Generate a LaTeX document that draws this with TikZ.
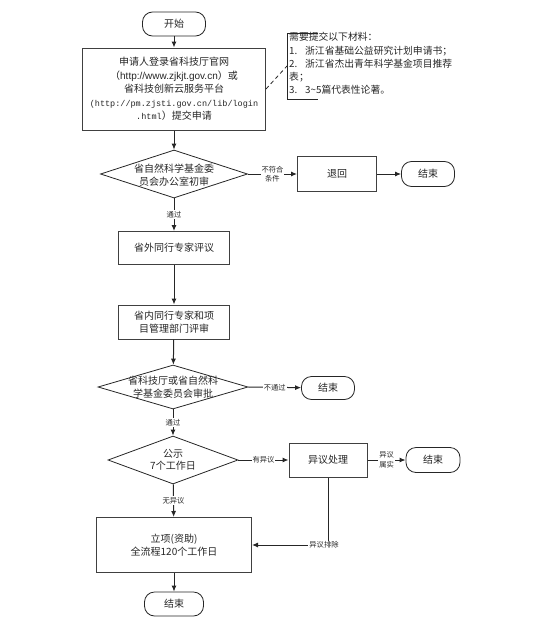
\documentclass[tikz,border=0pt]{standalone}
\usepackage{fontspec}
\setmainfont{Noto Sans CJK SC}
\newfontfamily\urlsans{Liberation Sans}
\newfontfamily\urlmono{Liberation Mono}
\usetikzlibrary{shapes.geometric,arrows.meta}
\begin{document}
\begin{tikzpicture}[x=1pt,y=-1pt,
  every node/.style={text=black!85},
  box/.style={draw=black!75,line width=1pt,fill=white,align=center,inner sep=0pt,
    font=\fontsize{10}{13.5}\selectfont},
  term/.style={draw=black!85,line width=0.8pt,rounded corners=10pt,fill=white,inner sep=0pt,
    font=\fontsize{10}{12}\selectfont},
  dia/.style={diamond,draw=black!85,line width=0.8pt,inner sep=0pt},
  dtxt/.style={align=center,inner sep=0pt,font=\fontsize{10}{12.5}\selectfont},
  arr/.style={draw=black!85,line width=1pt,-{Latex[length=6pt,width=5pt]}},
  lbl/.style={fill=white,inner sep=1pt,align=center,font=\fontsize{7.3}{9.5}\selectfont},
  note/.style={align=left,inner sep=0pt,font=\fontsize{9.8}{13.2}\selectfont}]
\useasboundingbox (0,0) rectangle (554,640);

% main column
\node[term,minimum width=63pt,minimum height=24pt] (start) at (174,24) {开始};
\node[box,minimum width=183pt,minimum height=82pt] (b1) at (174,89)
  {申请人登录省科技厅官网\\
   （{\urlsans http://www.zjkjt.gov.cn}）或\\
   省科技创新云服务平台\\
   {\urlmono\fontsize{8.5}{13.5}\selectfont (http://pm.zjsti.gov.cn/lib/login}\\
   {\urlmono\fontsize{8.5}{13.5}\selectfont .html}）提交申请};
\node[dia,minimum width=147pt,minimum height=48pt] (d1) at (174,174) {};
\node[dtxt] (d1t) at (174,175) {省自然科学基金委\\员会办公室初审};
\node[box,minimum width=111pt,minimum height=33pt] (b2) at (174,248) {省外同行专家评议};
\node[box,minimum width=111pt,minimum height=34pt] (b3) at (174,322) {省内同行专家和项\\目管理部门评审};
\node[dia,minimum width=150pt,minimum height=44pt] (d2) at (173,387) {};
\node[dtxt] (d2t) at (173,387) {省科技厅或省自然科\\学基金委员会审批};
\node[dia,minimum width=130pt,minimum height=48pt] (d3) at (173,460) {};
\node[dtxt] (d3t) at (173,460) {公示\\7个工作日};
\node[box,minimum width=155pt,minimum height=55pt] (b4) at (174,545) {立项(资助)\\全流程120个工作日};
\node[term,minimum width=59pt,minimum height=24pt] (e4) at (174,604) {结束};

% side nodes
\node[box,minimum width=79pt,minimum height=35pt] (back) at (337,174) {退回};
\node[term,minimum width=53pt,minimum height=25pt] (e1) at (428,174) {结束};
\node[term,minimum width=53pt,minimum height=23pt] (e2) at (328,388) {结束};
\node[box,minimum width=78pt,minimum height=34pt] (obj) at (328,460) {异议处理};
\node[term,minimum width=54pt,minimum height=25pt] (e3) at (433,460) {结束};

% callout
\node[note,anchor=west] (nt) at (289,63.5)
  {需要提交以下材料：\\
   \makebox[16pt][l]{1.}浙江省基础公益研究计划申请书；\\
   \makebox[16pt][l]{2.}浙江省杰出青年科学基金项目推荐\\
   表；\\
   \makebox[16pt][l]{3.}3\textasciitilde 5篇代表性论著。};
\coordinate (cn) at (287,66);
\draw[black!85,line width=0.8pt] (318,33) -- (287,33) -- (287,99) -- (318,99);
\draw[black!85,line width=0.8pt,dashed,dash pattern=on 4pt off 3pt] (b1.east) -- (cn);

% connectors
\draw[arr] (start) -- (b1);
\draw[arr] (b1) -- (d1);
\draw[arr] (d1) -- node[lbl]{通过} (b2);
\draw[arr] (b2) -- (b3);
\draw[arr] (b3) -- (d2);
\draw[arr] (d2) -- node[lbl]{通过} (d3);
\draw[arr] (d3) -- node[lbl]{无异议} (b4);
\draw[arr] (b4) -- (e4);
\draw[arr] (d1) -- node[lbl]{不符合\\条件} (back);
\draw[arr] (back) -- (e1);
\draw[arr] (d2.east) -- node[lbl]{不通过} (e2);
\draw[arr] (d3) -- node[lbl]{有异议} (obj);
\draw[arr] (obj) -- node[lbl]{异议\\属实} (e3);
\draw[arr] (obj.south) |- node[lbl,pos=0.5,xshift=-4pt]{异议排除} (b4.east);
\end{tikzpicture}
\end{document}
